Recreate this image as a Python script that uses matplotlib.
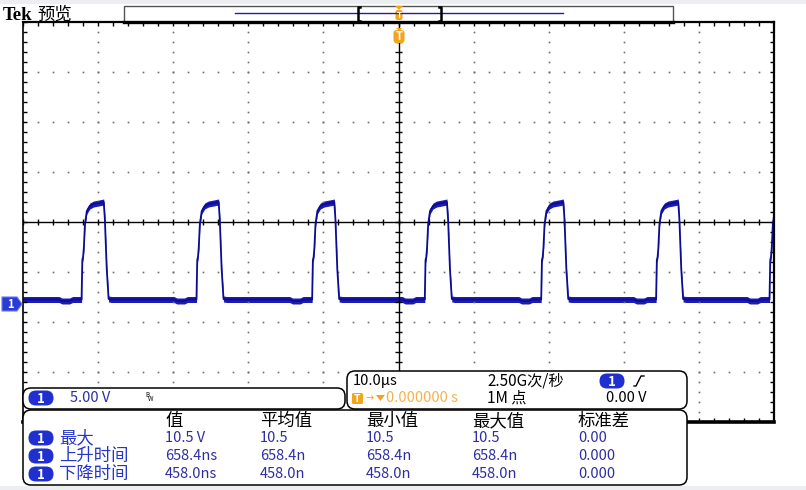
import numpy as np
import matplotlib.pyplot as plt
from matplotlib.patches import FancyBboxPatch, Polygon, Rectangle

plt.rcParams['font.family'] = ['Noto Sans CJK SC', 'DejaVu Sans']

# scope settings
t_div = 10.0          # us / div
v_div = 5.0           # V / div
gnd_px = 304          # row of the channel 1 ground marker
scr_left, scr_right, scr_top, scr_bot = 23, 774, 22, 422

# rising edges (us) and the shape of one pulse (us after the edge, V)
rise_times = [-42.2, -26.9, -11.5, 3.5, 19.0, 34.3, 49.4]
shape_dt = [-3.0, -2.6, -1.6, -1.2, 0.0, 0.1, 0.2, 0.3, 0.45, 0.7, 1.1, 1.6,
            2.3, 2.95, 3.1, 3.35, 3.6, 4.0]
shape_v = [0.45, 0.3, 0.3, 0.45, 0.45, 4.4, 4.7, 5.6, 8.0, 9.3, 9.8, 10.0,
           10.1, 10.2, 8.5, 3.5, 0.5, 0.45]
base_v = 0.45
noise_half = 0.3

# measurement table
meas_cols = ['值', '平均值', '最小值', '最大值', '标准差']
meas_rows = ['最大', '上升时间', '下降时间']
meas_vals = [['10.5 V', '10.5', '10.5', '10.5', '0.00'],
             ['658.4ns', '658.4n', '658.4n', '658.4n', '0.000'],
             ['458.0ns', '458.0n', '458.0n', '458.0n', '0.000']]
col_x = [165, 260, 366, 472, 578]
row_y = [438, 456, 474]

W, H = 806, 490
fig = plt.figure(figsize=(W / 100, H / 100), dpi=100)

#====================================================
# graticule
ax = fig.add_axes([scr_left / W, 1 - scr_bot / H,
                   (scr_right - scr_left) / W, (scr_bot - scr_top) / H])
vpp = v_div / 50.0                       # volts per pixel
ylo = -(scr_bot - gnd_px) * vpp
yhi = (gnd_px - scr_top) * vpp
vc = (gnd_px - (scr_top + scr_bot) / 2) * vpp
ax.set_xlim(-5 * t_div, 5 * t_div)
ax.set_ylim(ylo, yhi)
ax.set_xticks([])
ax.set_yticks([])
for s in ['top', 'right']:
    ax.spines[s].set_linewidth(1.6)
ax.spines['left'].set_linewidth(1.2)
ax.spines['bottom'].set_linewidth(2.6)

xdots = np.arange(-50, 50.01, t_div / 5)
ydots = vc + np.arange(-20, 21) * (v_div / 5)
for k in [-3, -2, -1, 1, 2, 3]:
    ax.plot(xdots, np.full(len(xdots), vc + k * v_div), ls='none', marker='s',
            ms=1.2, mew=0, color='#6e6e6e')
for k in [-4, -3, -2, -1, 1, 2, 3, 4]:
    ax.plot(np.full(len(ydots), k * t_div), ydots, ls='none', marker='s',
            ms=1.2, mew=0, color='#6e6e6e')

ax.axhline(vc, color='k', lw=1)
ax.axvline(0, color='k', lw=1)
ax.vlines(xdots, vc - 0.3, vc + 0.3, color='k', lw=1)
ax.hlines(ydots, -0.4, 0.4, color='k', lw=1)
ax.vlines(xdots, yhi - 0.4, yhi, color='k', lw=1)
ax.vlines(xdots, ylo, ylo + 0.4, color='k', lw=1)
ax.hlines(ydots, -50, -49.5, color='k', lw=1)
ax.hlines(ydots, 49.5, 50, color='k', lw=1)

# channel 1 trace
t = [-50.0]
v = [base_v]
for t0 in rise_times:
    t += [t0 + d for d in shape_dt]
    v += shape_v
t = np.array(t)
v = np.array(v)
ax.fill_between(t, v - noise_half, v + noise_half, color='#1c1cb4', lw=0)
ax.plot(t, v, color='#0c0c92', lw=1.3)

#====================================================
# overlay in pixel coordinates
ov = fig.add_axes([0, 0, 1, 1])
ov.set_xlim(0, W)
ov.set_ylim(H, 0)
ov.axis('off')
ov.set_zorder(3)

ov.add_patch(Rectangle((0, 0), W, 4, fc='#eceef1', ec='none'))
ov.add_patch(Rectangle((0, 486), W, 4, fc='#eceef1', ec='none'))

ov.text(3, 15, 'Tek', family='Liberation Serif', weight='bold', fontsize=13.5,
        va='center', ha='left')
ov.text(37, 15, '预览', fontsize=12.5, va='center', ha='left')

# record view bar
ov.add_patch(Rectangle((124, 6), 549, 16, fc='white', ec='#555555', lw=1))
ov.plot([124, 673], [22, 22], color='k', lw=2.4)
ov.plot([235, 563], [13.3, 13.3], color='#2a1aa0', lw=1)
ov.plot([360, 358, 358, 360], [7, 7, 21, 21], color='k', lw=1.8)
ov.plot([439, 441, 441, 439], [7, 7, 21, 21], color='k', lw=1.8)
ov.add_patch(Polygon([(395, 6), (403, 6), (399, 10)], fc='#f2a41c', ec='none'))
ov.add_patch(FancyBboxPatch((395.5, 10), 7, 10, boxstyle='round,pad=0,rounding_size=2',
                            fc='#f2a41c', ec='none'))
ov.text(399, 15.3, 'T', color='white', fontsize=6, ha='center', va='center', weight='bold')
ov.add_patch(Polygon([(396, 28), (402, 28), (399, 31)], fc='#f2a41c', ec='none'))
ov.add_patch(FancyBboxPatch((393.5, 30), 11, 13, boxstyle='round,pad=0,rounding_size=3',
                            fc='#f2a41c', ec='none'))
ov.text(399, 36.5, 'T', color='white', fontsize=8, ha='center', va='center', weight='bold')

# channel 1 ground marker
ov.add_patch(Polygon([(2, 297), (17, 297), (22, 304), (17, 311), (2, 311)],
                     fc='#2a3ad6', ec='#6a78e8', lw=0.8))
ov.text(10, 304.5, '1', color='white', fontsize=8, ha='center', va='center', weight='bold')


def panel(x0, y0, x1, y1):
    ov.add_patch(FancyBboxPatch((x0, y0), x1 - x0, y1 - y0,
                                boxstyle='round,pad=0,rounding_size=8',
                                fc='white', ec='black', lw=1.1))


def pill(cx, cy):
    ov.add_patch(FancyBboxPatch((cx - 12.5, cy - 7.5), 25, 15,
                                boxstyle='round,pad=0,rounding_size=7.5',
                                fc='#1f2fd0', ec='none'))
    ov.text(cx, cy + 0.5, '1', color='white', fontsize=9.5, ha='center', va='center',
            weight='bold')


blue_lbl = '#2536c8'
blue_val = '#2e2ea2'

# channel panel
panel(23, 388, 345, 409)
pill(41, 398)
ov.text(70, 398, '5.00 V', color=blue_val, fontsize=10.5, va='center')
ov.text(145, 395, 'B', color='black', fontsize=4.5, va='center')
ov.text(148, 399, 'W', color='black', fontsize=4.5, va='center')

# timebase / trigger panel
panel(347, 371, 687, 409)
ov.text(353, 381, '10.0μs', fontsize=10.5, va='center')
ov.text(487, 381, '2.50G次/秒', fontsize=11, va='center')
pill(612, 381)
ov.plot([634, 636, 641, 644], [386, 386, 376, 376], color='k', lw=1)
ov.add_patch(FancyBboxPatch((352, 393), 11, 11, boxstyle='round,pad=0,rounding_size=1.5',
                            fc='#f2a41c', ec='none'))
ov.text(357.5, 398.8, 'T', color='white', fontsize=7.5, ha='center', va='center', weight='bold')
ov.text(365, 398, '→', color='#f2a41c', fontsize=7, va='center', family='DejaVu Sans')
ov.add_patch(Polygon([(376, 395), (385, 395), (380.5, 401)], fc='#f2a41c', ec='none'))
ov.text(386, 398, '0.000000 s', color='#f4b24a', fontsize=10.5, va='center')
ov.text(487, 398, '1M 点', fontsize=11, va='center')
ov.text(606, 398, '0.00 V', fontsize=10.5, va='center')

# measurement panel
panel(23, 410, 687, 485)
for name, x in zip(meas_cols, col_x):
    ov.text(x, 421, name, fontsize=12.5, va='center')
for r, (name, y) in enumerate(zip(meas_rows, row_y)):
    pill(41, y)
    ov.text(59, y, name, color=blue_lbl, fontsize=12.5, va='center')
    for c, x in enumerate(col_x):
        ov.text(x, y, meas_vals[r][c], color=blue_val, fontsize=10.5, va='center')

fig.savefig('out.png', dpi=100)
